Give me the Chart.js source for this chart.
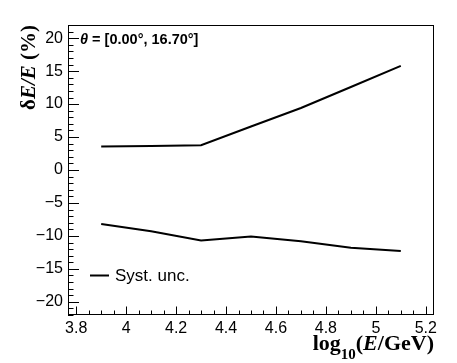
<!DOCTYPE html>
<html>
<head>
<meta charset="utf-8">
<script src="https://cdn.jsdelivr.net/npm/chart.js@4.4.1/dist/chart.umd.min.js"></script>
<style>
html,body{margin:0;padding:0;background:#fff;}
#wrap{width:457px;height:363px;position:relative;}
</style>
</head>
<body>
<div id="wrap"><canvas id="c" width="457" height="363"></canvas></div>
<script>
// ---- data ----
const logE = [3.9, 4.1, 4.3, 4.5, 4.7, 4.9, 5.1];
const systUpper = [3.55, 3.65, 3.75, 6.6, 9.4, 12.6, 15.8];
const systLower = [-8.2, -9.3, -10.7, -10.1, -10.8, -11.8, -12.3];
const xTickValues = [3.8, 4.0, 4.2, 4.4, 4.6, 4.8, 5.0, 5.2];
const yTickValues = [-20, -15, -10, -5, 0, 5, 10, 15, 20];
const legendLabel = "Syst. unc.";
const thetaLabel = "= [0.00\u00B0, 16.70\u00B0]";

const SANS = "'Liberation Sans', Arial, Helvetica, sans-serif";
const SERIF = "'Liberation Serif', 'Times New Roman', serif";

const overlay = {
  id: 'rootStyle',
  afterDraw(chart) {
    const {ctx, chartArea: a, scales: {x, y}} = chart;
    ctx.save();
    ctx.strokeStyle = '#000';
    ctx.lineWidth = 1;
    // frame
    ctx.strokeRect(a.left + 0.5, a.top + 0.5, a.right - a.left - 1, a.bottom - a.top - 1);
    // y ticks (inside, left)
    ctx.beginPath();
    for (let v = Math.ceil(y.min); v <= y.max; v++) {
      const len = (v % 5 === 0) ? 11 : 5.5;
      const py = Math.round(y.getPixelForValue(v)) + 0.5;
      ctx.moveTo(a.left, py); ctx.lineTo(a.left + len, py);
    }
    // x ticks (inside, bottom)
    for (let k = Math.ceil(x.min / 0.05 - 1e-6); k * 0.05 <= x.max + 1e-9; k++) {
      const v = k * 0.05;
      const len = (k % 4 === 0) ? 8.5 : 4.5;
      const px = Math.round(x.getPixelForValue(v)) + 0.5;
      ctx.moveTo(px, a.bottom); ctx.lineTo(px, a.bottom - len);
    }
    ctx.stroke();

    ctx.fillStyle = '#000';
    ctx.textBaseline = 'alphabetic';
    // theta label
    ctx.font = 'italic bold 14.5px ' + SANS;
    ctx.textAlign = 'left';
    ctx.fillText('\u03B8', a.left + 12, 44);
    const tw = ctx.measureText('\u03B8 ').width;
    ctx.font = 'bold 14.5px ' + SANS;
    ctx.fillText(thetaLabel, a.left + 12 + tw, 44);

    // legend
    ctx.lineWidth = 2;
    ctx.beginPath();
    ctx.moveTo(90, 275.5); ctx.lineTo(109, 275.5);
    ctx.stroke();
    ctx.font = '17px ' + SANS;
    ctx.textBaseline = 'middle';
    ctx.fillText(legendLabel, 115, 276);

    // x title: log10(E/GeV), right aligned to frame
    ctx.textBaseline = 'alphabetic';
    const parts = [
      {t: 'log', f: 'bold 22px ' + SERIF, dy: 0},
      {t: '10', f: 'bold 15px ' + SERIF, dy: 9},
      {t: '(', f: 'bold 22px ' + SERIF, dy: 0},
      {t: 'E', f: 'italic bold 22px ' + SERIF, dy: 0},
      {t: '/GeV)', f: 'bold 22px ' + SERIF, dy: 0}
    ];
    let total = 0;
    parts.forEach(p => { ctx.font = p.f; p.w = ctx.measureText(p.t).width; total += p.w; });
    let cx = a.right - total;
    parts.forEach(p => { ctx.font = p.f; ctx.fillText(p.t, cx, 349.5 + p.dy); cx += p.w; });

    // y title: δE/E (%), rotated, right aligned to top of frame
    const yparts = [
      {t: '\u03B4', f: 'bold 21px ' + SERIF},
      {t: 'E/E', f: 'italic bold 21px ' + SERIF},
      {t: ' (%)', f: 'bold 21px ' + SERIF}
    ];
    let ytot = 0;
    yparts.forEach(p => { ctx.font = p.f; p.w = ctx.measureText(p.t).width; ytot += p.w; });
    ctx.translate(35, a.top + ytot);
    ctx.rotate(-Math.PI / 2);
    let yy = 0;
    yparts.forEach(p => { ctx.font = p.f; ctx.fillText(p.t, yy, 0); yy += p.w; });
    ctx.restore();
  }
};

const fmt = v => {
  const r = Math.round(v * 10) / 10;
  const s = String(Math.abs(r));
  return r < 0 ? '\u2212' + s : s;
};

new Chart(document.getElementById('c'), {
  type: 'line',
  data: {
    datasets: [
      {label: legendLabel, data: logE.map((e, i) => ({x: e, y: systUpper[i]})),
       borderColor: '#000', borderWidth: 2, pointRadius: 0, fill: false, tension: 0},
      {label: legendLabel + ' low', data: logE.map((e, i) => ({x: e, y: systLower[i]})),
       borderColor: '#000', borderWidth: 2, pointRadius: 0, fill: false, tension: 0}
    ]
  },
  options: {
    responsive: false,
    animation: false,
    devicePixelRatio: 1,
    layout: {padding: {top: 25, right: 23, left: 0, bottom: 0}},
    plugins: {legend: {display: false}, tooltip: {enabled: false}},
    scales: {
      x: {
        type: 'linear', min: 3.767, max: 5.233,
        grid: {display: false, drawTicks: false},
        border: {display: false},
        afterBuildTicks: s => { s.ticks = xTickValues.map(v => ({value: v})); },
        afterFit: s => { s.height = 48; },
        ticks: {callback: fmt, color: '#000', font: {family: SANS, size: 16}, padding: 4, maxRotation: 0, autoSkip: false}
      },
      y: {
        type: 'linear', min: -22, max: 22,
        grid: {display: false, drawTicks: false},
        border: {display: false},
        afterBuildTicks: s => { s.ticks = yTickValues.map(v => ({value: v})); },
        afterFit: s => { s.width = 68; },
        ticks: {callback: fmt, color: '#000', font: {family: SANS, size: 16}, padding: 5, autoSkip: false}
      }
    }
  },
  plugins: [overlay]
});
</script>
</body>
</html>
